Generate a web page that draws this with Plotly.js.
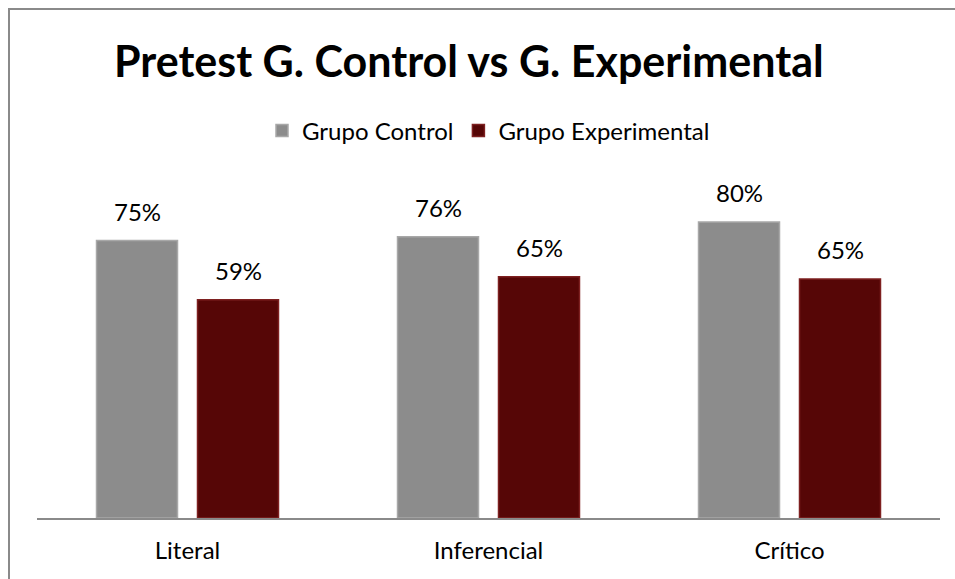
<!DOCTYPE html>
<html>
<head>
<meta charset="utf-8">
<script src="https://cdn.plot.ly/plotly-3.0.1.min.js"></script>
<style>
  html, body { margin: 0; padding: 0; background: #fff; }
  #wrap { position: relative; width: 955px; height: 579px; overflow: hidden; }
  #frame { position: absolute; left: 8px; top: 8px; width: 1000px; height: 1000px;
           border-left: 2px solid #8a8a8a; border-top: 2px solid #8a8a8a; box-sizing: border-box; pointer-events: none; }
  #chart { position: absolute; left: 0; top: 0; width: 955px; height: 579px; }
</style>
</head>
<body>
<div id="wrap">
  <div id="chart"></div>
  <div id="frame"></div>
</div>
<script>
const categories = ["Literal", "Inferencial", "Crítico"];
const seriesNames = ["Grupo Control", "Grupo Experimental"];
const controlValues = [75, 76, 80];
const experimentalValues = [59, 65.2, 64.6];
const chartTitle = "Pretest G. Control vs G. Experimental";

const FONT = "Lato, 'Noto Sans', sans-serif";

const traces = [
  {
    type: "bar", name: seriesNames[0], x: categories, y: controlValues,
    marker: { color: "#8c8c8c", line: { color: "#a8a8a8", width: 1.5 } },
    hoverinfo: "x+y"
  },
  {
    type: "bar", name: seriesNames[1], x: categories, y: experimentalValues,
    marker: { color: "#560606", line: { color: "#7e2020", width: 1.5 } },
    hoverinfo: "x+y"
  }
];

const annotations = [];
[controlValues, experimentalValues].forEach((vals, si) => {
  vals.forEach((v, i) => {
    annotations.push({
      x: categories[i], y: v, xref: "x", yref: "y",
      text: Math.round(v) + "%", showarrow: false,
      xshift: si === 0 ? -50.5 : 50.5, yshift: 13, yanchor: "bottom",
      font: { family: FONT, size: 24, color: "#000" }
    });
  });
});

const layout = {
  width: 955, height: 579,
  margin: { l: 37, r: 15, t: 185, b: 61 },
  paper_bgcolor: "#fff", plot_bgcolor: "#fff",
  title: {
    text: "<b>" + chartTitle + "</b>",
    font: { family: FONT, size: 43, color: "#000" },
    x: 0.491, xanchor: "center", y: 1 - 62 / 579, yanchor: "middle", yref: "container"
  },
  barmode: "group", bargap: 0.329, bargroupgap: 0.198,
  showlegend: true,
  legend: {
    orientation: "h", x: 0.5, xanchor: "center", y: (518 - 131) / 333, yanchor: "middle",
    font: { family: FONT, size: 24, color: "#000" }, itemwidth: 30,
    traceorder: "normal"
  },
  xaxis: {
    type: "category", showline: true, linecolor: "#8a8a8a", linewidth: 2,
    ticks: "outside", ticklen: 10, tickcolor: "rgba(0,0,0,0)",
    tickfont: { family: FONT, size: 24, color: "#000" },
    showgrid: false, zeroline: false, fixedrange: true
  },
  yaxis: {
    range: [0, 90], visible: false, showgrid: false, zeroline: false, fixedrange: true
  },
  annotations: annotations
};

Plotly.newPlot("chart", traces, layout, { displayModeBar: false, staticPlot: true });
</script>
</body>
</html>
